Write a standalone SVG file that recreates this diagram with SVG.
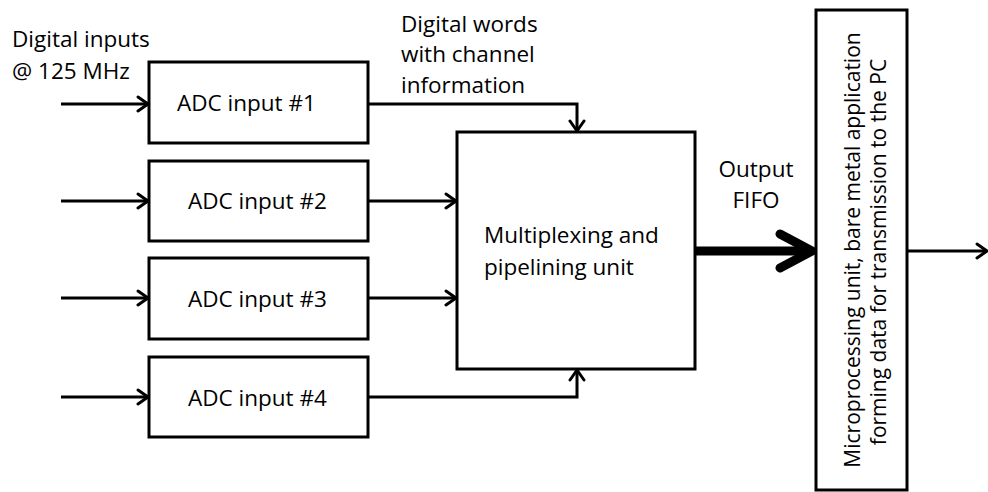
<svg xmlns="http://www.w3.org/2000/svg" width="988" height="492" viewBox="0 0 988 492">
  <style>
    .box { fill: #ffffff; stroke: #000000; stroke-width: 3; }
    .lbl { font-family: "Open Sans", "Liberation Sans", sans-serif; font-size: 22.5px; fill: #000000; }
    .vlbl { font-family: "Open Sans", "Liberation Sans", sans-serif; font-size: 21px; fill: #000000; }
    .wire { fill: none; stroke: #000000; stroke-width: 3; }
    .bus { fill: none; stroke: #000000; stroke-width: 9; }
  </style>
  <defs>
    <marker id="arrow" markerUnits="userSpaceOnUse" viewBox="0 0 14 18" markerWidth="14" markerHeight="18" refX="12" refY="9" orient="auto">
      <path d="M2,2 L12,9 L2,16" fill="none" stroke="#000000" stroke-width="3" stroke-linejoin="round" stroke-linecap="round"/>
    </marker>
  </defs>
  <rect width="988" height="492" fill="#ffffff"/>

  <!-- free labels -->
  <g id="label-inputs">
    <text class="lbl" x="12" y="47">Digital inputs</text>
    <text class="lbl" x="12" y="79">@ 125 MHz</text>
  </g>
  <g id="label-words">
    <text class="lbl" x="401" y="32">Digital words</text>
    <text class="lbl" x="401" y="62">with channel</text>
    <text class="lbl" x="401" y="93">information</text>
  </g>
  <g id="label-fifo">
    <text class="lbl" x="756" y="177" text-anchor="middle">Output</text>
    <text class="lbl" x="756" y="208" text-anchor="middle">FIFO</text>
  </g>

  <!-- connectors -->
  <g id="connectors">
    <line class="wire" x1="61" y1="104" x2="148" y2="104" marker-end="url(#arrow)"/>
    <line class="wire" x1="61" y1="201" x2="148" y2="201" marker-end="url(#arrow)"/>
    <line class="wire" x1="61" y1="298" x2="148" y2="298" marker-end="url(#arrow)"/>
    <line class="wire" x1="61" y1="397" x2="148" y2="397" marker-end="url(#arrow)"/>
    <polyline class="wire" points="368,104 577,104 577,131" marker-end="url(#arrow)"/>
    <line class="wire" x1="368" y1="201" x2="456" y2="201" marker-end="url(#arrow)"/>
    <line class="wire" x1="368" y1="298" x2="456" y2="298" marker-end="url(#arrow)"/>
    <polyline class="wire" points="368,397 577,397 577,370" marker-end="url(#arrow)"/>
    <!-- wide bus into the microprocessing unit -->
    <line class="bus" x1="695" y1="251" x2="808" y2="251"/>
    <path class="bus" d="M780,234 L812,251 L780,268" stroke-linecap="round" stroke-linejoin="miter"/>
    <line class="wire" x1="907" y1="251" x2="987" y2="251" marker-end="url(#arrow)"/>
  </g>

  <!-- ADC input blocks -->
  <g id="adc1">
    <rect class="box" x="149" y="62" width="219" height="81"/>
    <text class="lbl" x="177" y="111">ADC input #1</text>
  </g>
  <g id="adc2">
    <rect class="box" x="149" y="161" width="219" height="80"/>
    <text class="lbl" x="188" y="209">ADC input #2</text>
  </g>
  <g id="adc3">
    <rect class="box" x="149" y="258" width="219" height="81"/>
    <text class="lbl" x="188" y="307">ADC input #3</text>
  </g>
  <g id="adc4">
    <rect class="box" x="149" y="357" width="219" height="80"/>
    <text class="lbl" x="188" y="406">ADC input #4</text>
  </g>

  <!-- multiplexer -->
  <g id="mux">
    <rect class="box" x="457" y="132" width="238" height="237"/>
    <text class="lbl" x="484" y="243">Multiplexing and</text>
    <text class="lbl" x="484" y="275">pipelining unit</text>
  </g>

  <!-- microprocessing unit -->
  <g id="mpu">
    <rect class="box" x="816" y="10" width="91" height="480"/>
    <g transform="rotate(-90)">
      <text class="vlbl" x="-250" y="860" text-anchor="middle">Microprocessing unit,  bare metal application</text>
      <text class="vlbl" x="-252" y="886" text-anchor="middle">forming data for transmission to the PC</text>
    </g>
  </g>
</svg>
